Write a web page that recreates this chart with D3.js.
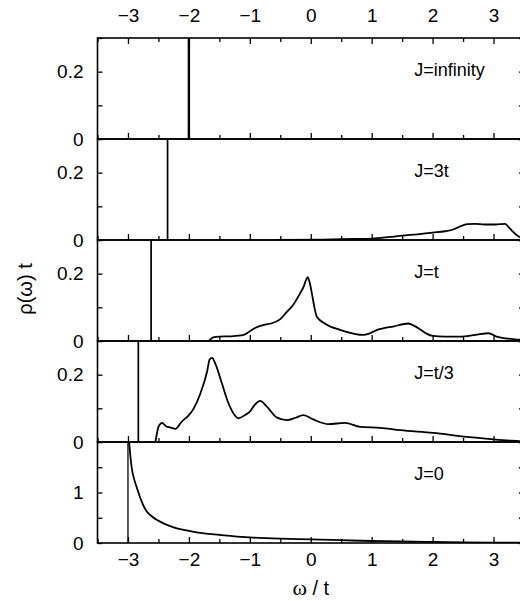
<!DOCTYPE html>
<html>
<head>
<meta charset="utf-8">
<script src="https://cdn.jsdelivr.net/npm/d3@7"></script>
<style>
  html, body { margin: 0; padding: 0; background: #fff; }
  svg { display: block; font-family: "Liberation Sans", Arial, Helvetica, sans-serif; }
</style>
</head>
<body>
<svg id="chart" width="520" height="601"></svg>
<script>
// ---- data ----
const panelLabels = ["J=infinity", "J=3t", "J=t", "J=t/3", "J=0"];
const deltaPositions = [-2.0, -2.35, -2.62, -2.83, -3.0];
const yMax = [0.3, 0.3, 0.3, 0.3, 2.0];
const yTickValues = [[0, 0.1, 0.2, 0.3], [0, 0.1, 0.2, 0.3], [0, 0.1, 0.2, 0.3], [0, 0.1, 0.2, 0.3], [0, 0.5, 1, 1.5, 2]];
const yTickLabels = [["0", "", "0.2", ""], ["0", "", "0.2", ""], ["0", "", "0.2", ""], ["0", "", "0.2", ""], ["0", "", "1", "", ""]];
const xMajorTicks = [-3, -2, -1, 0, 1, 2, 3];
const xMinorTicks = [-3.5, -2.5, -1.5, -0.5, 0.5, 1.5, 2.5, 3.5];

const curveInfinity = [];
const curve3t = [
  [-0.6, 0], [0.2, 0.001], [0.7, 0.003], [1.0, 0.004], [1.3, 0.009], [1.5, 0.013], [1.75, 0.017],
  [2.0, 0.022], [2.2, 0.026], [2.35, 0.032], [2.45, 0.04], [2.57, 0.047], [2.7, 0.048], [2.85, 0.046],
  [3.0, 0.046], [3.1, 0.047], [3.19, 0.048], [3.24, 0.04], [3.3, 0.028], [3.4, 0.012], [3.5, 0.004]
];
const curveT = [
  [-1.68, 0], [-1.65, 0.004], [-1.6, 0.011], [-1.5, 0.013], [-1.3, 0.014], [-1.1, 0.018], [-1.04, 0.024],
  [-0.95, 0.035], [-0.83, 0.045], [-0.75, 0.049], [-0.65, 0.052], [-0.5, 0.065], [-0.4, 0.085],
  [-0.29, 0.107], [-0.18, 0.14], [-0.12, 0.16], [-0.08, 0.18], [-0.05, 0.19], [-0.02, 0.175],
  [0.02, 0.14], [0.06, 0.1], [0.1, 0.072], [0.25, 0.05], [0.48, 0.033], [0.7, 0.022], [0.86, 0.018],
  [0.97, 0.023], [1.1, 0.034], [1.2, 0.038], [1.35, 0.043], [1.6, 0.052], [1.7, 0.045], [1.8, 0.034],
  [1.9, 0.022], [2.0, 0.015], [2.2, 0.013], [2.45, 0.013], [2.7, 0.018], [2.92, 0.023], [3.05, 0.013],
  [3.2, 0.008], [3.35, 0.005], [3.5, 0.003]
];
const curveT3 = [
  [-2.55, 0], [-2.53, 0.02], [-2.5, 0.045], [-2.44, 0.057], [-2.37, 0.046], [-2.3, 0.043], [-2.22, 0.039],
  [-2.12, 0.06], [-2.0, 0.08], [-1.92, 0.1], [-1.81, 0.145], [-1.7, 0.21], [-1.66, 0.245], [-1.62, 0.25],
  [-1.56, 0.23], [-1.46, 0.175], [-1.35, 0.115], [-1.25, 0.08], [-1.19, 0.07], [-1.08, 0.08], [-1.0, 0.09],
  [-0.92, 0.11], [-0.83, 0.122], [-0.72, 0.105], [-0.56, 0.073], [-0.39, 0.065], [-0.25, 0.072],
  [-0.12, 0.08], [0.04, 0.067], [0.29, 0.053], [0.56, 0.057], [0.81, 0.045], [1.14, 0.042], [1.47, 0.035],
  [2.01, 0.027], [2.56, 0.015], [3.0, 0.008], [3.3, 0.004], [3.5, 0.002]
];
const curve0 = [
  [-2.99, 2.3], [-2.985, 2.1], [-2.97, 1.85], [-2.94, 1.5], [-2.9, 1.27], [-2.85, 1.08], [-2.8, 0.9],
  [-2.75, 0.75], [-2.7, 0.64], [-2.6, 0.52], [-2.5, 0.44], [-2.4, 0.38], [-2.25, 0.31], [-2.0, 0.24],
  [-1.75, 0.19], [-1.5, 0.16], [-1.25, 0.13], [-1.0, 0.11], [-0.5, 0.085], [0, 0.07], [0.5, 0.055],
  [1.0, 0.04], [1.5, 0.03], [2.0, 0.02], [2.5, 0.013], [3.0, 0.008], [3.5, 0.004]
];
const curves = [curveInfinity, curve3t, curveT, curveT3, curve0];

// ---- layout ----
const svg = d3.select("#chart");
const left = 97.5, right = 524, top0 = 38, panelH = 101;
const x = d3.scaleLinear().domain([-3.5, 3.5]).range([left, right]);
const fontSize = 19;

panelLabels.forEach((lab, i) => {
  const yTop = top0 + i * panelH, yBot = yTop + panelH;
  const y = d3.scaleLinear().domain([0, yMax[i]]).range([yBot, yTop]);
  const g = svg.append("g");

  const cid = "clip" + i;
  svg.append("clipPath").attr("id", cid).append("rect")
    .attr("x", left).attr("y", yTop).attr("width", right - left).attr("height", panelH);

  const pg = g.append("g").attr("clip-path", `url(#${cid})`);
  pg.append("line")
    .attr("x1", x(deltaPositions[i])).attr("x2", x(deltaPositions[i]))
    .attr("y1", y(0)).attr("y2", y(yMax[i]))
    .attr("stroke", "#000").attr("stroke-width", i === 0 ? 2.4 : (i === 4 ? 1.3 : 1.7));
  if (curves[i].length) {
    pg.append("path").datum(curves[i])
      .attr("fill", "none").attr("stroke", "#000").attr("stroke-width", 1.8)
      .attr("stroke-linejoin", "round")
      .attr("d", d3.line().x(d => x(d[0])).y(d => y(d[1])).curve(d3.curveMonotoneX));
  }

  const bMinor = g.append("g").attr("transform", `translate(0,${yBot})`)
    .call(d3.axisBottom(x).tickValues(xMinorTicks).tickSize(-4).tickFormat(""));
  const bMajor = g.append("g").attr("transform", `translate(0,${yBot})`)
    .call(d3.axisBottom(x).tickValues(xMajorTicks).tickSize(-6).tickPadding(10)
      .tickFormat(i === 4 ? d3.format("d") : ""));
  [bMinor, bMajor].forEach(a => { a.select(".domain").remove(); a.selectAll("line").attr("stroke-width", 1.3); });
  bMajor.selectAll("text").attr("font-size", fontSize).attr("fill", "#000").attr("font-family", null);

  if (i === 0) {
    const tMinor = g.append("g").attr("transform", `translate(0,${yTop})`)
      .call(d3.axisTop(x).tickValues(xMinorTicks).tickSize(-4).tickFormat(""));
    const tMajor = g.append("g").attr("transform", `translate(0,${yTop})`)
      .call(d3.axisTop(x).tickValues(xMajorTicks).tickSize(-6).tickPadding(16).tickFormat(d3.format("d")));
    [tMinor, tMajor].forEach(a => { a.select(".domain").remove(); a.selectAll("line").attr("stroke-width", 1.3); });
    tMajor.selectAll("text").attr("font-size", fontSize).attr("fill", "#000").attr("font-family", null);
  }

  const la = g.append("g").attr("transform", `translate(${left},0)`)
    .call(d3.axisLeft(y).tickValues(yTickValues[i]).tickSize(-5).tickPadding(14)
      .tickFormat((d, k) => yTickLabels[i][k]));
  la.select(".domain").remove();
  la.selectAll("line").attr("stroke-width", 1.3);
  la.selectAll("text").attr("font-size", fontSize).attr("fill", "#000").attr("font-family", null);

  const ra = g.append("g").attr("transform", `translate(${right},0)`)
    .call(d3.axisRight(y).tickValues(yTickValues[i]).tickSize(-5).tickFormat(""));
  ra.select(".domain").remove();
  ra.selectAll("line").attr("stroke-width", 1.3);

  g.append("rect").attr("x", left).attr("y", yTop).attr("width", right - left).attr("height", panelH)
    .attr("fill", "none").attr("stroke", "#000").attr("stroke-width", 1.6);

  g.append("text").attr("x", x(1.7)).attr("y", yTop + 38)
    .attr("font-size", 18).attr("fill", "#000").text(lab);
});

const xt = svg.append("text").attr("x", x(0)).attr("y", 595).attr("text-anchor", "middle")
  .attr("font-size", 20).attr("fill", "#000");
xt.append("tspan").attr("font-family", "'Liberation Serif', 'Times New Roman', serif").attr("font-size", 22).text("ω");
xt.append("tspan").text(" / t");

svg.append("text").attr("transform", "translate(32,289) rotate(-90)").attr("text-anchor", "middle")
  .attr("font-size", 20).attr("fill", "#000").text("ρ(ω) t");
</script>
</body>
</html>
